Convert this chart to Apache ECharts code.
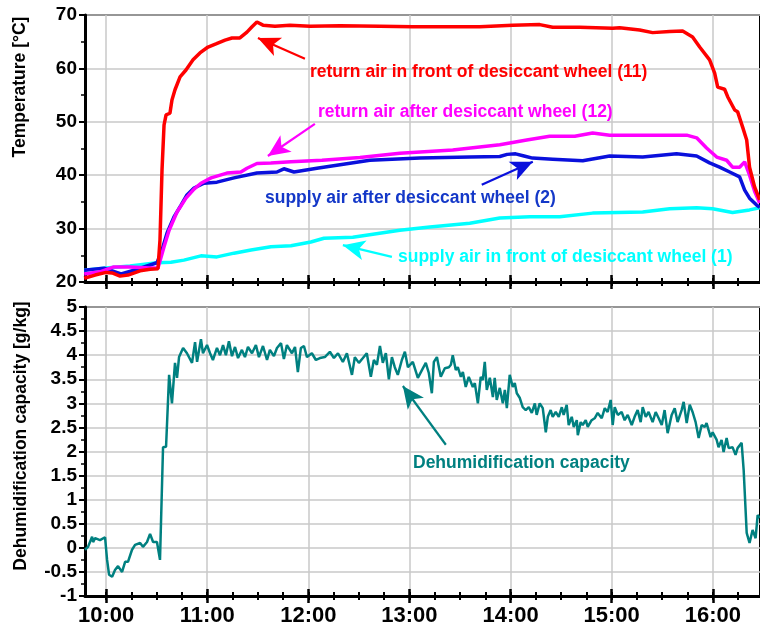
<!DOCTYPE html>
<html>
<head>
<meta charset="utf-8">
<script src="https://cdn.jsdelivr.net/npm/echarts@6/dist/echarts.min.js"></script>
<style>
  html, body { margin: 0; padding: 0; background: #fff; }
  #chart { width: 760px; height: 630px; }
</style>
</head>
<body>
<div id="chart"></div>
<script>
// time is minutes after midnight
var timeRed = [587, 593.5, 600, 603.6, 608.3, 613, 620.2, 626.1, 630.8, 632, 633.2, 634.4, 635.6, 637.9, 639.1, 640.9, 643.9, 647.4, 651.6, 655.7, 660.5, 665.2, 670.6, 674.7, 679.4, 683.6, 686.6, 689.5, 693.1, 700.2, 709.1, 721, 738.7, 762.5, 782, 804, 821.7, 841.3, 857.3, 865, 881, 900.6, 904.7, 916.6, 924.3, 934.4, 942.1, 948, 952.2, 958.1, 961.1, 962.9, 967, 968.8, 973, 974.7, 977.7, 980.1, 981.8, 984.8, 987.8];
var tempRed = [20.7, 21.3, 21.8, 21.7, 21.1, 21.3, 22.1, 22.4, 22.5, 27.9, 41.0, 49.4, 51.3, 51.6, 54.1, 56.0, 58.4, 59.7, 61.6, 62.9, 64.0, 64.6, 65.3, 65.7, 65.7, 66.8, 67.8, 68.7, 68.1, 67.9, 68.1, 67.9, 68.0, 67.9, 67.8, 67.8, 67.8, 68.1, 68.2, 67.7, 67.7, 67.5, 67.6, 67.2, 66.7, 66.9, 67.0, 65.9, 64.0, 61.6, 59.1, 56.5, 56.1, 54.7, 52.2, 51.9, 49.0, 46.6, 41.5, 37.8, 35.4];

var timeMagenta = [587, 596.4, 604.2, 614.2, 626.1, 630.8, 634.4, 637.4, 642.1, 647.4, 652.2, 656.3, 662.3, 671.7, 680, 683.6, 689.5, 697.8, 709.7, 728.1, 750.6, 774.3, 805.7, 833.6, 849.6, 863.2, 878.1, 888.7, 898.8, 928.5, 944.5, 950.4, 956.3, 962.3, 968.2, 971.7, 975.9, 978.9, 981.8, 984.8, 987.8];
var tempMagenta = [21.5, 21.9, 22.8, 22.8, 22.6, 22.6, 26.6, 29.7, 33.1, 35.7, 37.4, 38.5, 39.5, 40.4, 40.6, 41.3, 42.2, 42.3, 42.5, 42.8, 43.3, 44.1, 44.7, 45.7, 46.6, 47.3, 47.3, 47.9, 47.5, 47.5, 47.5, 47.0, 45.1, 43.4, 42.8, 41.5, 41.5, 42.5, 40.0, 37.0, 34.8];

var timeBlue = [587, 598.8, 608.9, 616.6, 630.2, 633.2, 636.2, 640.3, 644.5, 648, 652.2, 658.1, 665.8, 675.9, 689.5, 701.4, 705.5, 711.5, 725.1, 756.5, 786.2, 815.8, 833.6, 838, 843, 848, 853, 865, 882.8, 898.8, 918.4, 938.5, 950.4, 958.1, 964, 970, 975.9, 978.9, 981.8, 986, 987.8];
var tempBlue = [22.2, 22.6, 21.5, 22.2, 23.6, 26.0, 29.2, 32.2, 34.4, 36.3, 37.6, 38.5, 38.7, 39.5, 40.4, 40.6, 41.2, 40.6, 41.3, 42.8, 43.2, 43.4, 43.5, 43.9, 44.0, 43.6, 43.2, 43.0, 42.7, 43.6, 43.4, 44.0, 43.6, 42.3, 41.5, 40.6, 39.7, 37.2, 35.7, 34.4, 34.0];

var timeCyan = [587, 600, 614.2, 630.2, 638.5, 646.2, 656.3, 665.8, 675.9, 686, 697.8, 709.7, 721.5, 729.3, 746.4, 774.3, 792.1, 815.8, 833.6, 851.4, 869.2, 888.7, 918.4, 934.4, 950.4, 959.9, 971.7, 981.8, 987.8];
var tempCyan = [22.2, 22.6, 23.0, 23.6, 23.7, 24.1, 24.9, 24.7, 25.4, 26.0, 26.6, 26.8, 27.5, 28.2, 28.4, 29.7, 30.3, 31.0, 32.0, 32.2, 32.2, 32.9, 33.1, 33.7, 33.9, 33.7, 33.0, 33.5, 33.9];

var timeDehum = [587.5, 589.3, 591.7, 592.3, 593.5, 596.4, 599.4, 600.6, 601.8, 603.6, 605.3, 607.1, 609.5, 611.3, 613, 615.4, 617.2, 620.2, 621.9, 624.3, 626.1, 627.9, 630.2, 632, 633.8, 635.6, 637.4, 639.1, 640.9, 642.1, 643.3, 645.7, 648, 651, 652.8, 654, 656.3, 657.5, 659.9, 661.7, 663.4, 665.8, 667.6, 669.4, 671.1, 672.9, 674.7, 676.5, 678.3, 680.6, 682.4, 684.2, 686.6, 688.9, 690.7, 693.1, 695.5, 697.2, 699.6, 701.4, 703.8, 705.5, 707.3, 710.3, 712.1, 713.8, 715.6, 717.4, 719.2, 722.1, 724.5, 726.9, 729.8, 732.8, 735.2, 737.6, 740.5, 742.9, 745.9, 747.6, 750, 752.4, 754.7, 757.1, 758.9, 760.7, 762.5, 764.2, 766, 767.8, 769.6, 771.3, 773.1, 775.5, 777.3, 779.1, 782, 785, 787.4, 789.7, 791.5, 793.3, 794.5, 796.3, 798.6, 801, 803.4, 804.6, 805.7, 807.5, 808.7, 810.5, 811.7, 813.4, 815.2, 817.6, 818.8, 820.6, 822.3, 823.5, 824.7, 825.9, 827.7, 829.5, 830.6, 831.8, 833.6, 835.4, 836.6, 837.8, 839.5, 841.3, 842.5, 843.7, 845.5, 847.2, 849, 850.8, 852.6, 854.4, 855.5, 857.3, 859.1, 860.9, 862.1, 863.8, 865, 866.8, 868.6, 870.4, 871.5, 873.3, 874.5, 876.3, 877.5, 879.3, 879.9, 881.6, 882.8, 884.6, 885.8, 888.1, 889.9, 891.7, 894.1, 895.9, 897.6, 899.4, 900.6, 901.8, 903.6, 905.9, 907.7, 909.5, 911.9, 913.6, 915.4, 917.2, 918.4, 920.2, 921.9, 924.3, 926.1, 927.9, 929.7, 931.4, 933.2, 935.6, 937.4, 939.1, 941.5, 942.7, 944.5, 946.3, 948, 949.8, 951.6, 953.4, 955.2, 956.3, 958.7, 959.9, 962.3, 963.4, 965.2, 966.4, 968.2, 969.4, 971.7, 973.5, 974.7, 977.1, 978.3, 980.1, 981.8, 983.6, 985.4, 986.6, 987.8];
var dehum = [-0.04, 0.02, 0.23, 0.12, 0.2, 0.16, 0.22, -0.25, -0.56, -0.6, -0.46, -0.38, -0.5, -0.29, -0.29, -0.04, 0.06, 0.1, 0.02, 0.12, 0.29, 0.12, 0.12, -0.25, 2.09, 2.1, 3.59, 3.0, 3.84, 3.53, 3.96, 4.15, 4.04, 3.84, 4.27, 3.86, 4.33, 4.04, 4.21, 4.04, 3.9, 4.15, 4.0, 4.21, 4.0, 4.29, 3.98, 4.17, 3.94, 4.11, 3.96, 4.17, 4.04, 4.21, 3.96, 4.19, 3.9, 4.11, 3.98, 4.15, 4.25, 3.92, 4.21, 4.04, 4.17, 3.65, 4.15, 4.19, 3.96, 4.04, 3.9, 3.94, 3.96, 4.07, 3.94, 4.04, 3.86, 4.04, 3.59, 3.96, 3.84, 3.94, 4.04, 3.55, 3.9, 3.8, 4.19, 3.84, 4.04, 3.5, 3.96, 3.75, 3.59, 3.9, 4.07, 3.75, 3.86, 3.53, 3.69, 3.84, 3.63, 3.21, 3.86, 3.96, 3.55, 3.73, 3.75, 3.8, 4.0, 3.69, 3.75, 3.55, 3.65, 3.34, 3.55, 3.34, 3.42, 3.0, 3.55, 3.48, 3.86, 3.28, 3.53, 3.13, 3.53, 3.07, 3.32, 3.0, 3.28, 2.9, 3.59, 3.34, 3.42, 3.21, 3.11, 2.92, 2.86, 2.92, 2.8, 3.0, 2.76, 3.0, 2.9, 2.4, 2.72, 2.86, 2.72, 2.82, 2.72, 2.92, 2.76, 2.97, 2.55, 2.72, 2.51, 2.65, 2.34, 2.61, 2.55, 2.65, 2.51, 2.65, 2.69, 2.8, 2.69, 2.9, 2.82, 3.07, 2.55, 2.92, 2.76, 2.82, 2.65, 2.76, 2.55, 2.72, 2.86, 2.61, 2.92, 2.72, 2.82, 2.61, 2.82, 2.69, 2.55, 2.86, 2.38, 2.76, 2.9, 2.61, 2.86, 3.03, 2.59, 2.97, 2.82, 2.61, 2.28, 2.55, 2.51, 2.59, 2.3, 2.4, 2.24, 2.09, 2.24, 1.99, 2.28, 2.07, 2.09, 1.93, 2.07, 2.18, 1.62, 0.31, 0.1, 0.37, 0.2, 0.68, 0.62];

var hourTicks = [600, 660, 720, 780, 840, 900, 960];
var quarterTicks = [600, 615, 630, 645, 660, 675, 690, 705, 720, 735, 750, 765, 780, 795, 810, 825, 840, 855, 870, 885, 900, 915, 930, 945, 960, 975];

var FONT = '"Liberation Sans", Arial, Helvetica, sans-serif';

function pairs(t, v) {
  var out = [];
  for (var i = 0; i < t.length; i++) out.push([t[i], v[i]]);
  return out;
}
function hhmm(v) {
  var h = Math.floor(v / 60), m = Math.round(v % 60);
  return h + ':' + (m < 10 ? '0' + m : m);
}

// 4 x axes per grid: main (line, hour ticks out, labels, grid lines), hour ticks in, quarter ticks out, quarter ticks in
function xAxesFor(grid, labels) {
  var base = { type: 'value', gridIndex: grid, position: 'bottom', min: 587.5, max: 988 };
  var axes = [];
  axes.push(Object.assign({}, base, {
    axisLine: { show: true, onZero: false, lineStyle: { color: '#000', width: 3 } },
    axisTick: { show: true, customValues: hourTicks, length: 7, lineStyle: { color: '#000', width: 2.5 } },
    axisLabel: { show: labels, customValues: hourTicks, formatter: hhmm, color: '#000', fontWeight: 'bold', fontSize: 22, fontFamily: FONT, margin: 9 },
    splitLine: { show: true, lineStyle: { color: '#c8c8c8', width: 1.5 } }
  }));
  axes.push(Object.assign({}, base, {
    axisLine: { show: false, onZero: false },
    axisTick: { show: true, inside: true, customValues: hourTicks, length: 7, lineStyle: { color: '#000', width: 2.5 } },
    axisLabel: { show: false }, splitLine: { show: false }
  }));
  axes.push(Object.assign({}, base, {
    axisLine: { show: false, onZero: false },
    axisTick: { show: true, customValues: quarterTicks, length: 4, lineStyle: { color: '#000', width: 2 } },
    axisLabel: { show: false }, splitLine: { show: false }
  }));
  axes.push(Object.assign({}, base, {
    axisLine: { show: false, onZero: false },
    axisTick: { show: true, inside: true, customValues: quarterTicks, length: 4, lineStyle: { color: '#000', width: 2 } },
    axisLabel: { show: false }, splitLine: { show: false }
  }));
  return axes;
}

function yAxisFor(grid, min, max, step) {
  return {
    type: 'value', gridIndex: grid, min: min, max: max, interval: step,
    axisLine: { show: true, onZero: false, lineStyle: { color: '#000', width: 3 } },
    axisTick: { show: true, length: 6, lineStyle: { color: '#000', width: 2 } },
    minorTick: { show: true, splitNumber: 2, length: 4, lineStyle: { color: '#000', width: 1.5 } },
    axisLabel: { color: '#000', fontWeight: 'bold', fontSize: 19, fontFamily: FONT, margin: 8 },
    splitLine: { show: true, lineStyle: { color: '#c8c8c8', width: 1.5 } }
  };
}

function arrow(color, from, to) {
  return {
    silent: true, symbol: ['none', 'arrow'], symbolSize: [15, 22],
    label: { show: false },
    lineStyle: { color: color, width: 2.2, type: 'solid' },
    emphasis: { disabled: true },
    data: [[{ coord: from }, { coord: to }]]
  };
}

function noteText(x, y, text, color) {
  return {
    type: 'text', x: x, y: y, z: 100,
    style: { text: text, fill: color, fontSize: 17.5, fontWeight: 'bold', fontFamily: FONT, align: 'left', verticalAlign: 'middle' }
  };
}

var myChart = echarts.init(document.getElementById('chart'));

var option = {
  animation: false,
  backgroundColor: '#fff',
  grid: [
    { left: 85, right: -2, top: 15, height: 267, show: true, borderColor: '#000', borderWidth: 2 },
    { left: 85, right: -2, top: 307, height: 289, show: true, borderColor: '#000', borderWidth: 2 }
  ],
  xAxis: xAxesFor(0, false).concat(xAxesFor(1, true)),
  yAxis: [yAxisFor(0, 20, 70, 10), yAxisFor(1, -1, 5, 0.5)],
  graphic: [
    { type: 'text', x: 20, y: 87, rotation: Math.PI / 2,
      style: { text: 'Temperature [°C]', fill: '#000', fontSize: 17.5, fontWeight: 'bold', fontFamily: FONT, align: 'center', verticalAlign: 'middle' } },
    { type: 'text', x: 21, y: 436, rotation: Math.PI / 2,
      style: { text: 'Dehumidification capacity [g/kg]', fill: '#000', fontSize: 17.5, fontWeight: 'bold', fontFamily: FONT, align: 'center', verticalAlign: 'middle' } },
    noteText(310, 72, 'return air in front of desiccant wheel (11)', '#ff0000'),
    noteText(318, 112, 'return air after desiccant wheel (12)', '#ff00ff'),
    noteText(265, 198, 'supply air after desiccant wheel (2)', '#1438c8'),
    noteText(398, 257, 'supply air in front of desiccant wheel (1)', '#00ffff'),
    noteText(413, 463, 'Dehumidification capacity', '#008080')
  ],
  series: [
    {
      name: 'supply air in front of desiccant wheel (1)', type: 'line', xAxisIndex: 0, yAxisIndex: 0,
      showSymbol: false, data: pairs(timeCyan, tempCyan),
      lineStyle: { color: '#00ffff', width: 3.5 },
      markLine: arrow('#00ffff', [769.6, 24.7], [740.5, 26.9])
    },
    {
      name: 'supply air after desiccant wheel (2)', type: 'line', xAxisIndex: 0, yAxisIndex: 0,
      showSymbol: false, data: pairs(timeBlue, tempBlue),
      lineStyle: { color: '#0a10dc', width: 3.5 },
      markLine: arrow('#0a10dc', [822.9, 38.2], [853.2, 42.5])
    },
    {
      name: 'return air after desiccant wheel (12)', type: 'line', xAxisIndex: 0, yAxisIndex: 0,
      showSymbol: false, data: pairs(timeMagenta, tempMagenta),
      lineStyle: { color: '#ff00ff', width: 3.5 },
      markLine: arrow('#ff00ff', [723.9, 49.6], [696.0, 43.6])
    },
    {
      name: 'return air in front of desiccant wheel (11)', type: 'line', xAxisIndex: 0, yAxisIndex: 0,
      showSymbol: false, data: pairs(timeRed, tempRed),
      lineStyle: { color: '#ff0000', width: 3.5 },
      markLine: arrow('#ff0000', [718.0, 61.8], [690.1, 65.7])
    },
    {
      name: 'Dehumidification capacity', type: 'line', xAxisIndex: 4, yAxisIndex: 1,
      showSymbol: false, data: pairs(timeDehum, dehum),
      lineStyle: { color: '#008080', width: 2.5 },
      markLine: arrow('#008080', [801.6, 2.14], [776.1, 3.36])
    }
  ]
};

myChart.setOption(option);
</script>
</body>
</html>
